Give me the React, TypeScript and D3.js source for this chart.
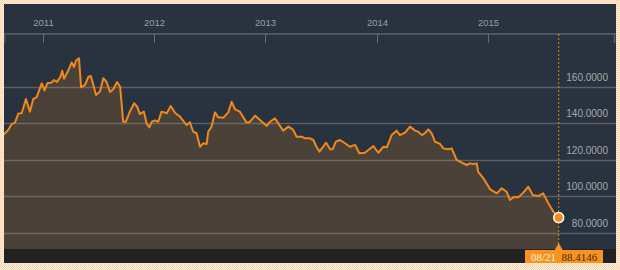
import React from "react";
import * as d3 from "d3";

const dates: string[] = [
  "2010-08-21","2010-09-05","2010-09-10","2010-09-21","2010-10-02","2010-10-13","2010-10-24","2010-11-07","2010-11-20","2010-12-01",
  "2010-12-12","2010-12-29","2011-01-07","2011-01-16","2011-01-31","2011-02-07","2011-02-16","2011-02-28","2011-03-06","2011-03-12",
  "2011-03-26","2011-04-06","2011-04-14","2011-04-20","2011-04-30","2011-05-07","2011-05-20","2011-05-31","2011-06-08","2011-06-25",
  "2011-07-08","2011-07-19","2011-07-29","2011-08-10","2011-08-21","2011-09-02","2011-09-12","2011-09-22","2011-10-01","2011-10-14",
  "2011-10-28","2011-11-07","2011-11-16","2011-11-29","2011-12-08","2011-12-17","2011-12-25","2012-01-04","2012-01-15","2012-01-26",
  "2012-02-12","2012-02-25","2012-03-10","2012-03-27","2012-04-17","2012-04-28","2012-05-09","2012-05-20","2012-05-31","2012-06-11",
  "2012-06-22","2012-06-27","2012-07-08","2012-07-19","2012-07-30","2012-08-16","2012-09-01","2012-09-12","2012-09-23","2012-10-09",
  "2012-10-31","2012-11-11","2012-11-28","2012-12-14","2013-01-05","2013-01-16","2013-02-01","2013-02-12","2013-02-28","2013-03-17",
  "2013-04-02","2013-04-13","2013-04-30","2013-05-11","2013-05-27","2013-06-07","2013-06-16","2013-06-27","2013-07-19","2013-08-01",
  "2013-08-09","2013-08-20","2013-09-02","2013-09-19","2013-10-05","2013-10-22","2013-11-05","2013-11-23","2013-12-21","2014-01-06",
  "2014-01-23","2014-02-03","2014-02-19","2014-03-07","2014-03-18","2014-04-04","2014-04-20","2014-05-07","2014-05-17","2014-05-29",
  "2014-06-08","2014-06-19","2014-06-30","2014-07-11","2014-07-28","2014-08-07","2014-08-24","2014-09-04","2014-09-20","2014-10-07",
  "2014-10-23","2014-11-03","2014-11-14","2014-11-25","2014-11-30","2014-12-17","2015-01-08","2015-01-30","2015-02-15","2015-03-03",
  "2015-03-14","2015-03-25","2015-04-10","2015-04-27","2015-05-13","2015-05-28","2015-06-15","2015-07-01","2015-07-18","2015-08-03",
  "2015-08-21",
];

const values: number[] = [
  133.0,135.5,136.4,139.6,140.4,145.4,145.5,153.3,146.4,153.3,
  154.4,161.9,158.0,161.9,162.4,163.7,162.6,165.4,168.8,164.4,
  168.9,173.3,170.8,174.3,175.6,159.7,161.0,165.5,165.9,155.5,
  157.4,164.7,162.8,157.2,158.8,162.6,160.1,140.9,140.9,146.4,
  151.0,149.1,145.1,146.4,140.0,137.8,140.9,141.6,140.9,146.4,
  145.5,149.5,145.8,143.6,139.1,140.6,135.4,134.6,127.2,129.1,
  128.7,135.4,138.2,146.0,143.3,143.1,146.0,151.8,147.7,146.4,
  140.4,140.9,144.2,141.8,138.6,140.9,142.8,140.0,136.0,138.2,
  136.4,132.7,132.7,131.8,131.8,130.9,127.6,124.5,129.4,125.8,
  125.8,130.0,130.9,129.1,127.2,128.2,123.6,123.9,127.6,123.9,
  127.2,126.9,133.6,136.0,133.6,134.9,138.2,136.0,135.4,133.6,
  134.6,136.7,134.6,130.0,128.7,126.3,125.8,126.3,120.0,118.5,
  117.2,118.1,117.8,118.1,113.5,109.9,103.9,101.7,104.5,102.6,
  98.1,99.5,99.5,102.1,105.3,100.8,100.2,101.7,96.3,91.7,
  88.4146,
];

const yearLabels: string[] = ["2011", "2012", "2013", "2014", "2015"];
const yTicks: number[] = [80, 100, 120, 140, 160];
const lastLabelDate = "08/21";
const lastLabelValue = "88.4146";

const W = 620;
const H = 270;
const panel = { x: 4, y: 4, w: 612, h: 259 };
const axisY = 34;
const plotBottom = 249;

export default function App() {
  const parse = d3.timeParse("%Y-%m-%d");
  const data = dates.map((d, i) => ({ date: parse(d) as Date, value: values[i] }));
  const x = d3
    .scaleTime()
    .domain([new Date(2011, 0, 1), new Date(2015, 7, 21)])
    .range([42.7, 558.7]);
  const y = d3.scaleLinear().domain([80, 160]).range([233, 86.8]);

  const line = d3
    .line<{ date: Date; value: number }>()
    .x((d) => x(d.date))
    .y((d) => y(d.value));
  const area = d3
    .area<{ date: Date; value: number }>()
    .x((d) => x(d.date))
    .y0(plotBottom)
    .y1((d) => y(d.value));

  const last = data[data.length - 1];
  const lx = x(last.date);
  const ly = y(last.value);

  return (
    <svg
      width={W}
      height={H}
      style={{ position: "absolute", left: 0, top: 0, display: "block" }}
      fontFamily="'Liberation Sans', Arial, sans-serif"
    >
      <defs>
        <pattern id="chk" width="2" height="2" patternUnits="userSpaceOnUse">
          <rect width="2" height="2" fill="#fff0e0" />
          <rect width="1" height="1" fill="#f9cb98" />
          <rect x="1" y="1" width="1" height="1" fill="#fbdcb8" />
        </pattern>
        <clipPath id="pc">
          <rect x={panel.x} y={axisY} width={panel.w} height={plotBottom - axisY} />
        </clipPath>
      </defs>
      <rect width={W} height={H} fill="url(#chk)" />
      <rect x={panel.x} y={panel.y} width={panel.w} height={panel.h} fill="#29323f" />
      {/* bottom band */}
      <rect x={panel.x} y={plotBottom} width={panel.w} height={panel.y + panel.h - plotBottom} fill="#222223" />

      <g clipPath="url(#pc)">
        <path d={area(data) || ""} fill="#4a4139" />
      </g>

      {/* gridlines */}
      {yTicks.map((t) => (
        <line
          key={t}
          x1={panel.x}
          x2={panel.x + panel.w}
          y1={Math.round(y(t)) + 0.5}
          y2={Math.round(y(t)) + 0.5}
          stroke="rgba(190,180,165,0.35)"
          strokeWidth={1.5}
        />
      ))}

      <g clipPath="url(#pc)">
        <path d={line(data) || ""} fill="none" stroke="#f0891b" strokeWidth={2} strokeLinejoin="round" />
      </g>

      {/* top axis */}
      <line x1={panel.x} x2={panel.x + panel.w} y1={axisY} y2={axisY} stroke="#5c6168" strokeWidth={1.5} />
      <line x1={panel.x + 1} x2={panel.x + 1} y1={axisY} y2={axisY + 9} stroke="#5c6168" strokeWidth={1} />
      <line x1={panel.x + panel.w - 1.5} x2={panel.x + panel.w - 1.5} y1={axisY} y2={axisY + 9} stroke="#5c6168" strokeWidth={1.5} />
      {yearLabels.map((yr) => {
        const tx = Math.round(x(new Date(+yr, 0, 1))) + 0.5;
        return (
          <g key={yr}>
            <line x1={tx} x2={tx} y1={axisY} y2={axisY + 9} stroke="#676c73" strokeWidth={1} />
            <text x={tx} y={26} textAnchor="middle" fontSize={9.5} fill="#989ea5">
              {yr}
            </text>
          </g>
        );
      })}

      {/* y labels */}
      {yTicks.map((t) => (
        <text key={t} x={608} y={y(t) - 6} textAnchor="end" fontSize={10} fill="#a4a9af">
          {t.toFixed(4)}
        </text>
      ))}

      {/* cursor line */}
      <line
        x1={lx}
        x2={lx}
        y1={axisY}
        y2={plotBottom}
        stroke="#d8901e"
        strokeWidth={1}
        strokeDasharray="2,2"
      />
      <circle cx={lx} cy={ly} r={5} fill="#f28c1e" stroke="#ffffff" strokeWidth={1.5} />

      {/* value tag */}
      <path d={`M${lx - 4},${plotBottom + 1} L${lx},${plotBottom - 6} L${lx + 4},${plotBottom + 1} Z`} fill="#f7931e" />
      <rect x={525} y={plotBottom + 1} width={78} height={14} fill="#f7931e" />
      <text x={531} y={261} fontSize={11} fill="#fff1dc" fontFamily="'Liberation Serif', 'Times New Roman', serif">
        {lastLabelDate}
      </text>
      <text x={561.5} y={261} fontSize={11} fill="#4a2a00" fontFamily="'Liberation Serif', 'Times New Roman', serif">
        {lastLabelValue}
      </text>

      {/* cover lower border strip */}
      <rect x={0} y={panel.y + panel.h} width={W} height={H - panel.y - panel.h} fill="url(#chk)" />
    </svg>
  );
}
